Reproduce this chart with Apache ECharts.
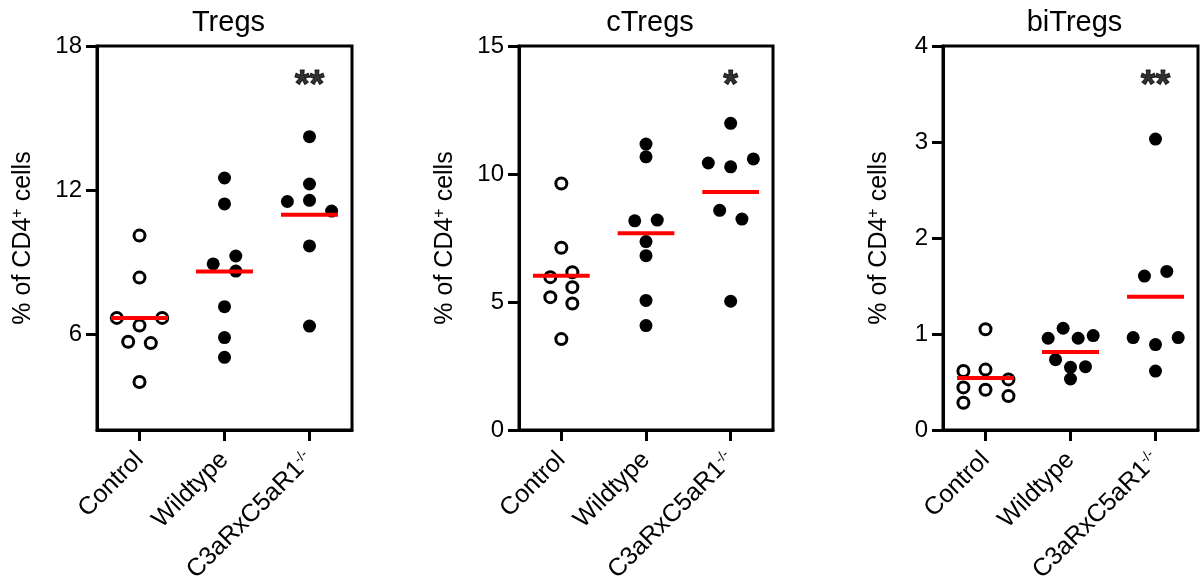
<!DOCTYPE html>
<html><head><meta charset="utf-8">
<script src="https://cdn.jsdelivr.net/npm/echarts@6/dist/echarts.min.js"></script>
<style>html,body{margin:0;padding:0;background:#fff}#c{width:1202px;height:587px}</style>
</head><body><div id="c"></div>
<script>
// ---- categories & labels ----
const categories = ['Control', 'Wildtype', 'C3aRxC5aR1'];
const categorySup = ['', '', '-/-'];
const panelTitles = ['Tregs', 'cTregs', 'biTregs'];

// ---- Tregs ----
const tregsControl  = [10.1, 8.35, 6.67, 6.67, 6.35, 5.68, 5.62, 4.0];
const tregsWildtype = [12.5, 11.42, 9.25, 8.92, 8.62, 7.14, 5.85, 5.03];
const tregsKO       = [14.22, 12.25, 11.52, 11.57, 11.12, 9.67, 6.33];
const tregsMeans    = [6.67, 8.6, 10.97];
const tregsSig      = ['', '', '**'];
const tregsTicks    = [6, 12, 18];
const tregsRange    = [2, 18];

// ---- cTregs ----
const ctregsControl  = [9.63, 7.12, 5.97, 6.16, 5.58, 5.19, 4.94, 3.55];
const ctregsWildtype = [11.17, 10.67, 8.17, 8.2, 7.36, 6.81, 5.06, 4.08];
const ctregsKO       = [11.98, 10.43, 10.28, 10.59, 8.58, 8.24, 5.03];
const ctregsMeans    = [6.03, 7.69, 9.3];
const ctregsSig      = ['', '', '*'];
const ctregsTicks    = [0, 5, 10, 15];
const ctregsRange    = [0, 15];

// ---- biTregs ----
const bitregsControl  = [1.05, 0.614, 0.629, 0.527, 0.444, 0.42, 0.353, 0.284];
const bitregsWildtype = [1.06, 0.956, 0.956, 0.984, 0.733, 0.653, 0.66, 0.531];
const bitregsKO       = [3.03, 1.603, 1.652, 0.963, 0.89, 0.963, 0.614];
const bitregsMeans    = [0.541, 0.813, 1.387];
const bitregsSig      = ['', '', '**'];
const bitregsTicks    = [0, 1, 2, 3, 4];
const bitregsRange    = [0, 4];

// ---- horizontal jitter of the dots (fraction of a category) ----
const jitTregs = [
  [0, 0, -0.267, 0.267, 0, -0.133, 0.133, 0],
  [0, 0, 0.133, -0.133, 0.133, 0, 0, 0],
  [0, 0, -0.26, 0, 0.26, 0, 0]
];
const jitCtregs = [
  [0, 0, -0.13, 0.13, 0.13, -0.13, 0.13, 0],
  [0, 0, -0.133, 0.133, 0, 0, 0, 0],
  [0, -0.264, 0, 0.268, -0.13, 0.133, 0]
];
const jitBitregs = [
  [0, -0.26, 0, 0.27, -0.26, 0, 0.27, -0.26],
  [-0.087, -0.263, 0.09, 0.267, -0.176, 0, 0.176, 0],
  [0, -0.13, 0.133, -0.263, 0, 0.267, 0]
];

const panels = [
  {groups: [tregsControl, tregsWildtype, tregsKO], jit: jitTregs, means: tregsMeans, sig: tregsSig, ticks: tregsTicks, range: tregsRange},
  {groups: [ctregsControl, ctregsWildtype, ctregsKO], jit: jitCtregs, means: ctregsMeans, sig: ctregsSig, ticks: ctregsTicks, range: ctregsRange},
  {groups: [bitregsControl, bitregsWildtype, bitregsKO], jit: jitBitregs, means: bitregsMeans, sig: bitregsSig, ticks: bitregsTicks, range: bitregsRange}
];

const FONT = 'Arial, "Liberation Sans", Helvetica, sans-serif';
const gridBoxes = [
  {left: 97, right: 850, top: 46, bottom: 157},
  {left: 519, right: 429, top: 46, bottom: 157},
  {left: 943, right: 4, top: 46, bottom: 157}
];
const nameGaps = [61, 61, 51];

const grid = [], xAxis = [], yAxis = [], series = [], title = [];
panels.forEach((p, i) => {
  const g = gridBoxes[i];
  grid.push(Object.assign({show: true, borderColor: '#000', borderWidth: 3, backgroundColor: 'transparent'}, g));
  const cx = g.left + (1202 - g.right - g.left) / 2;
  title.push({text: panelTitles[i], left: cx - 1, top: 3, textAlign: 'center',
    textStyle: {fontSize: 29, fontWeight: 'normal', color: '#000', fontFamily: FONT}});
  xAxis.push({
    type: 'value', gridIndex: i, min: -0.5, max: 2.5,
    splitLine: {show: false},
    axisLine: {onZero: false, lineStyle: {color: '#000', width: 3}},
    axisTick: {customValues: [0, 1, 2], length: 11, lineStyle: {color: '#000', width: 3}},
    axisLabel: {
      customValues: [0, 1, 2], rotate: 45, margin: 26, color: '#000', fontSize: 25, fontFamily: FONT,
      formatter: v => { const k = Math.round(v); return categories[k] + (categorySup[k] ? '{sup|' + categorySup[k] + '}' : ''); },
      rich: {sup: {fontSize: 14, fontFamily: FONT, color: '#000', verticalAlign: 'top', padding: [0, 0, 10, 0]}}
    }
  });
  yAxis.push({
    type: 'value', gridIndex: i, min: p.range[0], max: p.range[1],
    splitLine: {show: false},
    axisLine: {onZero: false, lineStyle: {color: '#000', width: 3}},
    axisTick: {customValues: p.ticks, length: 11, lineStyle: {color: '#000', width: 3}},
    axisLabel: {customValues: p.ticks, margin: 15, color: '#000', fontSize: 24, fontFamily: FONT},
    name: '% of CD4{sup|+} cells', nameLocation: 'middle', nameRotate: 90, nameGap: nameGaps[i],
    nameTextStyle: {fontSize: 25, color: '#000', fontFamily: FONT,
      rich: {sup: {fontSize: 16, fontFamily: FONT, color: '#000', verticalAlign: 'top', padding: [0, 0, 10, 0]}}}
  });
  p.groups.forEach((vals, k) => {
    const open = k === 0;
    series.push({
      type: 'scatter', xAxisIndex: i, yAxisIndex: i, z: 3,
      symbol: 'circle', symbolSize: open ? 11 : 13,
      itemStyle: open ? {color: '#fff', borderColor: '#000', borderWidth: 3, opacity: 1}
                      : {color: '#000', opacity: 1},
      data: vals.map((v, j) => [k + p.jit[k][j], v])
    });
  });
  series.push({
    type: 'custom', xAxisIndex: i, yAxisIndex: i, z: 5,
    data: p.means.map((m, k) => [k, m]),
    renderItem: (params, api) => {
      const a = api.coord([api.value(0) - 0.335, api.value(1)]);
      const b = api.coord([api.value(0) + 0.335, api.value(1)]);
      return {type: 'line', shape: {x1: a[0], y1: a[1], x2: b[0], y2: b[1]}, style: {stroke: '#ff0000', lineWidth: 4}};
    }
  });
  const starY = p.range[0] + 0.895 * (p.range[1] - p.range[0]);
  series.push({
    type: 'scatter', xAxisIndex: i, yAxisIndex: i, z: 6,
    symbolSize: 1, itemStyle: {color: 'rgba(0,0,0,0)'},
    label: {show: true, position: 'inside', formatter: d => d.data.name, fontSize: 38, fontWeight: 'bold',
      color: '#000', textBorderColor: '#000', textBorderWidth: 1, fontFamily: FONT},
    data: p.sig.map((s, k) => ({name: s, value: [k, starY]})).filter(d => d.name)
  });
});

const chart = echarts.init(document.getElementById('c'));
chart.setOption({animation: false, backgroundColor: '#fff', title, grid, xAxis, yAxis, series});
</script>
</body></html>
